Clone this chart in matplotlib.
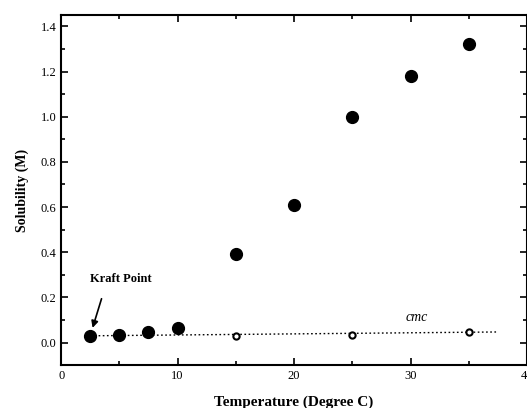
import matplotlib.pyplot as plt
from matplotlib.ticker import MultipleLocator

plt.rcParams['font.family'] = ['Liberation Serif', 'DejaVu Serif']

# solubility (filled circles)
temp = [2.5, 5, 7.5, 10, 15, 20, 25, 30, 35]
solubility = [0.03, 0.035, 0.045, 0.065, 0.39, 0.61, 1.0, 1.18, 1.32]

# cmc (open circles + dotted line)
cmc_temp = [15, 25, 35]
cmc = [0.03, 0.035, 0.045]
cmc_line_x = [2.5, 37.5]
cmc_line_y = [0.03, 0.047]

fig = plt.figure(figsize=(5.27, 4.08), dpi=100)
ax = fig.add_axes([0.116, 0.105, 0.884, 0.858])

ax.plot(cmc_line_x, cmc_line_y, linestyle=(0, (1.2, 1.8)), color='black', lw=1.0)
ax.plot(cmc_temp, cmc, 'o', ms=4.5, mfc='white', mec='black', mew=1.5)
ax.plot(temp, solubility, 'o', ms=8.5, color='black')

ax.set_xlim(0, 40)
ax.set_ylim(-0.1, 1.45)
ax.xaxis.set_major_locator(MultipleLocator(10))
ax.xaxis.set_minor_locator(MultipleLocator(5))
ax.yaxis.set_major_locator(MultipleLocator(0.2))
ax.yaxis.set_minor_locator(MultipleLocator(0.1))
ax.yaxis.set_major_formatter(plt.FuncFormatter(lambda v, p: f'{v:.1f}'))
ax.tick_params(which='both', direction='in', top=True, right=True, labelsize=9, width=1.2)
ax.tick_params(which='major', length=5)
ax.tick_params(which='minor', length=3)
for s in ax.spines.values():
    s.set_linewidth(1.5)

ax.set_xlabel('Temperature (Degree C)', fontsize=11, fontweight='bold', labelpad=10)
ax.set_ylabel('Solubility (M)', fontsize=10, fontweight='bold', labelpad=8)

ax.annotate('Kraft Point', xy=(2.7, 0.065), xytext=(2.5, 0.28), fontsize=9,
            fontweight='bold', va='center',
            arrowprops=dict(arrowstyle='-|>', color='black', lw=1.2,
                            shrinkA=8, shrinkB=0, mutation_scale=10,
                            relpos=(0.25, 0.0)))
ax.text(30.5, 0.11, 'cmc', fontsize=10, style='italic', ha='center', va='center')

fig.savefig('out.png', dpi=100)
